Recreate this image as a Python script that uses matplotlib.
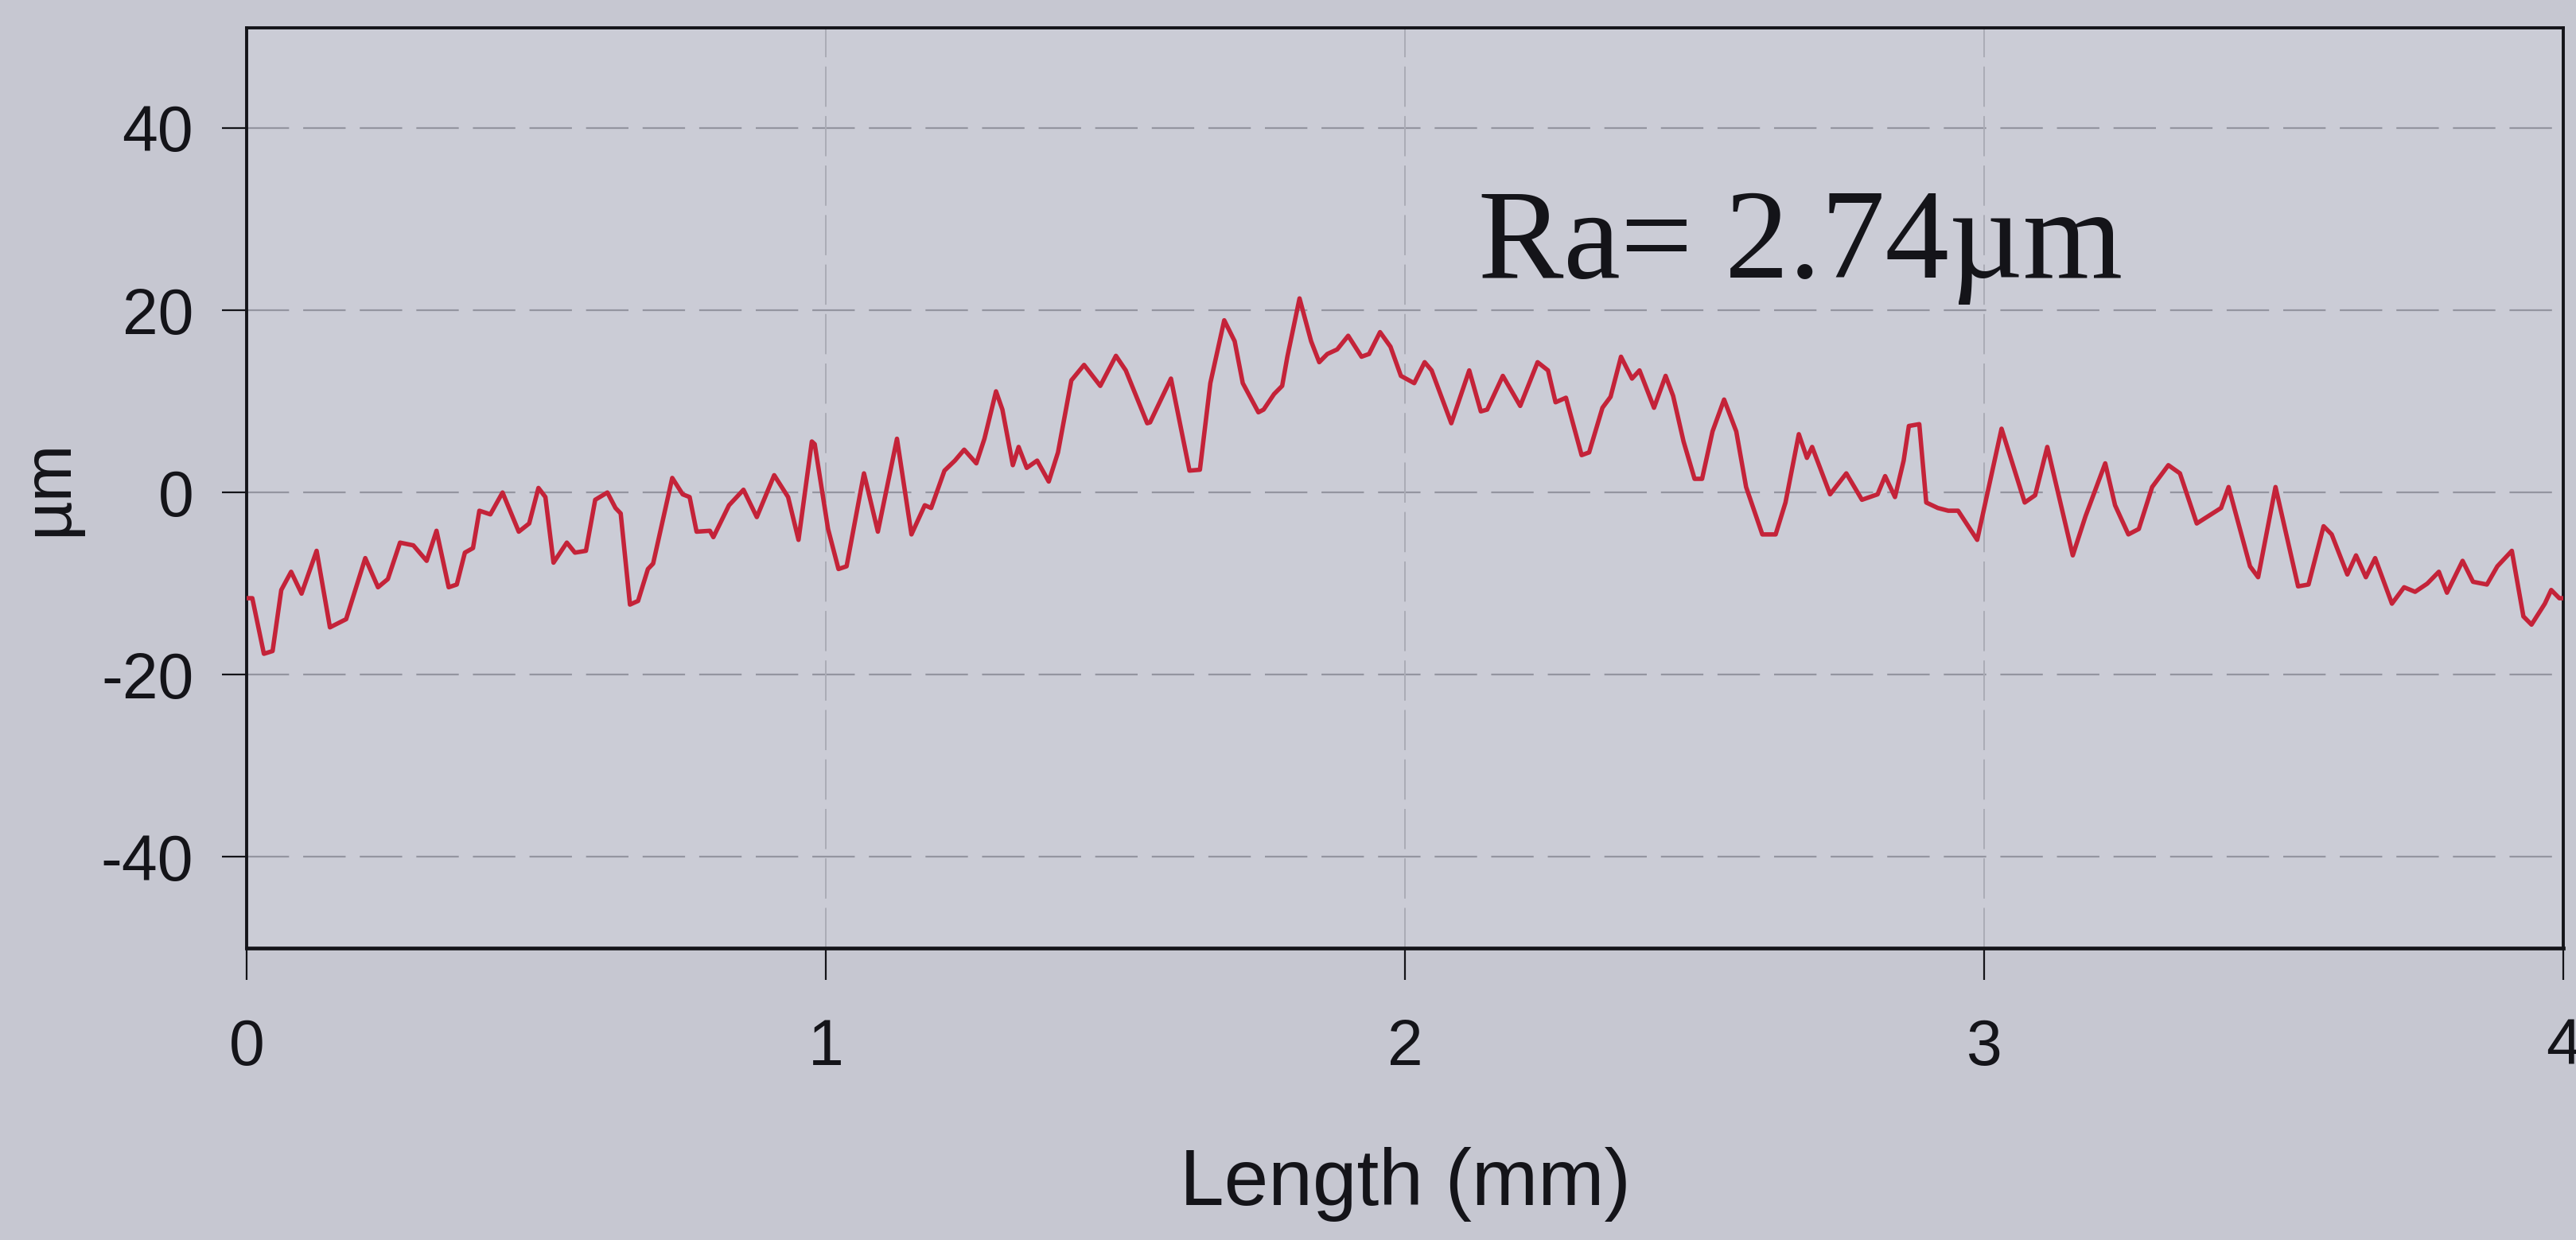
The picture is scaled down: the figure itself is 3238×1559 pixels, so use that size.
import matplotlib
matplotlib.use("Agg")
import matplotlib.pyplot as plt

# Surface profile along the scan (length in mm, height in µm)
length_mm = [
    0.000, 0.010, 0.030, 0.045, 0.060, 0.077, 0.095, 0.121, 0.144, 0.172,
    0.205, 0.227, 0.244, 0.265, 0.288, 0.311, 0.328, 0.349, 0.363, 0.377,
    0.391, 0.402, 0.421, 0.442, 0.470, 0.488, 0.504, 0.516, 0.530, 0.553,
    0.567, 0.586, 0.602, 0.623, 0.637, 0.646, 0.662, 0.676, 0.693, 0.702,
    0.735, 0.753, 0.765, 0.777, 0.800, 0.806, 0.833, 0.858, 0.881, 0.911,
    0.935, 0.953, 0.976, 0.981, 1.004, 1.022, 1.036, 1.066, 1.090, 1.123,
    1.148, 1.171, 1.182, 1.205, 1.223, 1.239, 1.260, 1.274, 1.294, 1.305,
    1.323, 1.333, 1.347, 1.365, 1.385, 1.401, 1.424, 1.446, 1.474, 1.501,
    1.518, 1.555, 1.560, 1.596, 1.628, 1.646, 1.664, 1.688, 1.706, 1.720,
    1.747, 1.756, 1.774, 1.788, 1.797, 1.818, 1.838, 1.852, 1.866, 1.883,
    1.902, 1.925, 1.938, 1.957, 1.975, 1.993, 2.016, 2.034, 2.046, 2.080,
    2.111, 2.131, 2.142, 2.169, 2.199, 2.229, 2.247, 2.260, 2.278, 2.305,
    2.318, 2.341, 2.355, 2.373, 2.392, 2.405, 2.430, 2.450, 2.463, 2.481,
    2.500, 2.513, 2.531, 2.551, 2.572, 2.589, 2.617, 2.640, 2.657, 2.680,
    2.694, 2.703, 2.734, 2.762, 2.789, 2.816, 2.829, 2.846, 2.861, 2.870,
    2.888, 2.900, 2.920, 2.938, 2.955, 2.988, 3.030, 3.070, 3.088, 3.109,
    3.153, 3.175, 3.209, 3.226, 3.249, 3.267, 3.290, 3.318, 3.338, 3.367,
    3.409, 3.422, 3.459, 3.473, 3.503, 3.542, 3.560, 3.586, 3.600, 3.627,
    3.642, 3.659, 3.675, 3.704, 3.725, 3.744, 3.765, 3.785, 3.799, 3.826,
    3.844, 3.868, 3.886, 3.911, 3.931, 3.945, 3.968, 3.979, 3.993, 4.000,
]
height_um = [
    -11.6, -11.6, -17.7, -17.4, -10.7, -8.7, -11.1, -6.4, -14.8, -13.9,
    -7.2, -10.4, -9.5, -5.5, -5.8, -7.5, -4.2, -10.4, -10.1, -6.6,
    -6.1, -2.0, -2.4, 0.0, -4.3, -3.4, 0.5, -0.5, -7.7, -5.5,
    -6.6, -6.4, -0.8, 0.0, -1.7, -2.3, -12.3, -11.9, -8.4, -7.8,
    1.6, -0.2, -0.5, -4.3, -4.2, -4.9, -1.4, 0.3, -2.7, 1.9,
    -0.5, -5.2, 5.6, 5.3, -4.0, -8.4, -8.1, 2.1, -4.3, 5.9,
    -4.6, -1.4, -1.7, 2.4, 3.5, 4.7, 3.2, 5.9, 11.1, 9.1,
    3.0, 5.0, 2.7, 3.5, 1.2, 4.4, 12.3, 14.0, 11.7, 15.0,
    13.4, 7.6, 7.7, 12.5, 2.4, 2.5, 12.0, 18.9, 16.6, 12.0,
    8.8, 9.1, 10.8, 11.7, 14.9, 21.3, 16.6, 14.3, 15.2, 15.7,
    17.2, 14.9, 15.2, 17.6, 16.0, 12.8, 12.0, 14.3, 13.4, 7.6,
    13.4, 8.9, 9.1, 12.8, 9.5, 14.3, 13.4, 9.9, 10.4, 4.1,
    4.4, 9.3, 10.5, 14.9, 12.5, 13.4, 9.3, 12.8, 10.6, 5.6,
    1.5, 1.5, 6.7, 10.2, 6.7, 0.6, -4.6, -4.6, -1.1, 6.4,
    3.8, 5.0, -0.2, 2.1, -0.8, -0.2, 1.8, -0.5, 3.5, 7.3,
    7.5, -1.1, -1.7, -2.0, -2.0, -5.2, 7.0, -1.1, -0.3, 5.0,
    -6.9, -2.6, 3.2, -1.4, -4.6, -4.0, 0.6, 3.0, 2.1, -3.4,
    -1.7, 0.6, -8.1, -9.3, 0.6, -10.3, -10.1, -3.7, -4.6, -9.0,
    -6.9, -9.3, -7.2, -12.2, -10.4, -10.9, -10.0, -8.7, -11.0, -7.5,
    -9.8, -10.1, -8.1, -6.4, -13.6, -14.5, -12.2, -10.7, -11.6, -11.6,
]

x_ticks = [0, 1, 2, 3, 4]
y_ticks = [-40, -20, 0, 20, 40]
ra_value = 2.74

paper = "#c6c7d1"
ink = "#141419"
trace = "#c42339"

fig = plt.figure(figsize=(32.38, 15.59), dpi=100, facecolor=paper)
ax = fig.add_axes([0.0957, 0.2354, 0.8994, 0.7422], facecolor="#cbccd6")

ax.plot(length_mm, height_um, color=trace, lw=4.0, solid_joinstyle="round", zorder=3)

ax.set_xlim(0, 4)
ax.set_ylim(-50, 51)
ax.set_xticks(x_ticks)
ax.set_yticks(y_ticks)
ax.set_xticklabels([str(t) for t in x_ticks])
ax.set_yticklabels([str(t) for t in y_ticks])

# dashed grid
for yv in y_ticks:
    ax.axhline(yv, color="#9495a0", lw=1.6, ls=(0, (24, 8)), zorder=1)
for xv in x_ticks[1:-1]:
    ax.axvline(xv, color="#abacb6", lw=1.4, ls=(0, (26, 6)), zorder=1)

for side in ["left", "right", "top", "bottom"]:
    ax.spines[side].set_color(ink)
    ax.spines[side].set_linewidth(2.8)
ax.spines["bottom"].set_linewidth(3.4)

ax.tick_params(axis="x", direction="out", length=29, width=1.6, color=ink,
               pad=34, labelsize=58, labelcolor=ink)
ax.tick_params(axis="y", direction="out", length=22, width=1.6, color=ink,
               pad=26, labelsize=58, labelcolor=ink)
for lab in ax.get_xticklabels() + ax.get_yticklabels():
    lab.set_family("Liberation Sans")

ax.set_xlabel("Length (mm)", fontsize=72, family="Liberation Sans", color=ink,
              labelpad=62)
ax.set_ylabel("µm", fontsize=62, family="Liberation Sans", color=ink,
              labelpad=18)

ax.text(2.126, 23.6, f"Ra= {ra_value:.2f}µm", fontsize=116,
        family="Liberation Serif", color=ink, ha="left", va="baseline", zorder=4)

fig.savefig("out.png", dpi=100, facecolor=paper)
